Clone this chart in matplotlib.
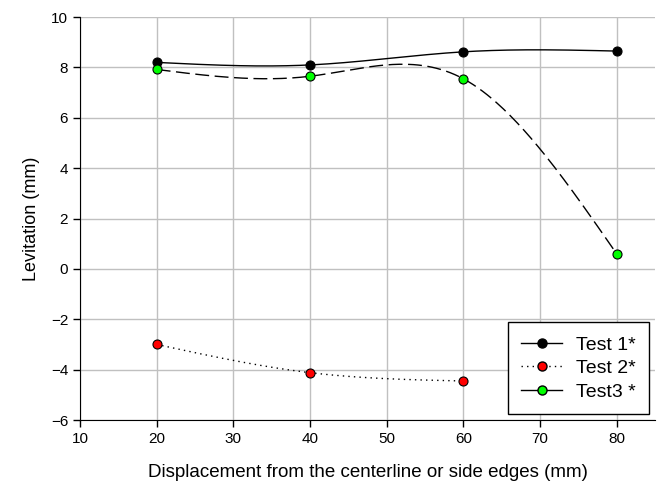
import numpy as np
import matplotlib
matplotlib.use('Agg')
import matplotlib.pyplot as plt
from matplotlib.lines import Line2D

plt.rcParams['font.family'] = ['Liberation Sans', 'DejaVu Sans']

# Data
displacement = [20, 40, 60, 80]
test1 = [8.2, 8.1, 8.62, 8.65]
test2_x = [20, 40, 60]
test2 = [-3.0, -4.12, -4.45]
test3 = [7.92, 7.65, 7.55, 0.6]


def natural_spline(x, y, n=200):
    """Natural cubic spline through the points (smooth curve like SigmaPlot)"""
    x = np.asarray(x, float)
    y = np.asarray(y, float)
    k = len(x)
    h = np.diff(x)
    A = np.zeros((k, k))
    b = np.zeros(k)
    A[0, 0] = A[-1, -1] = 1
    for i in range(1, k - 1):
        A[i, i - 1] = h[i - 1]
        A[i, i] = 2 * (h[i - 1] + h[i])
        A[i, i + 1] = h[i]
        b[i] = 3 * ((y[i + 1] - y[i]) / h[i] - (y[i] - y[i - 1]) / h[i - 1])
    c = np.linalg.solve(A, b)
    xs = np.linspace(x[0], x[-1], n)
    ys = np.empty_like(xs)
    for j, xv in enumerate(xs):
        i = min(np.searchsorted(x, xv, side='right') - 1, k - 2)
        bi = (y[i + 1] - y[i]) / h[i] - h[i] * (2 * c[i] + c[i + 1]) / 3
        di = (c[i + 1] - c[i]) / (3 * h[i])
        t = xv - x[i]
        ys[j] = y[i] + bi * t + c[i] * t ** 2 + di * t ** 3
    return xs, ys


fig = plt.figure(figsize=(6.67, 4.95), dpi=100)
ax = fig.add_axes([0.12, 0.1515, 0.862, 0.814])

mk = dict(marker='o', markersize=6.5, markeredgecolor='black', markeredgewidth=0.8, linestyle='none', zorder=3)

xs, ys = natural_spline(displacement, test1)
ax.plot(xs, ys, color='black', linewidth=1.0)
ax.plot(displacement, test1, markerfacecolor='black', **mk)

xs, ys = natural_spline(test2_x, test2)
ax.plot(xs, ys, color='black', linewidth=1.0, linestyle=(0, (1, 3)))
ax.plot(test2_x, test2, markerfacecolor='#ff0000', **mk)

xs, ys = natural_spline(displacement, test3)
ax.plot(xs, ys, color='black', linewidth=1.0, linestyle=(0, (10, 4)))
ax.plot(displacement, test3, markerfacecolor='#00ff00', **mk)

ax.set_xlim(10, 85)
ax.set_ylim(-6, 10)
ax.set_xticks(np.arange(10, 90, 10))
ax.set_yticks(np.arange(-6, 12, 2))
ax.grid(True, color='#c0c0c0', linewidth=1.0)
ax.set_axisbelow(True)
for s in ['top', 'right']:
    ax.spines[s].set_visible(False)
ax.tick_params(direction='out', length=5, labelsize=11, width=1)

ax.set_xlabel('Displacement from the centerline or side edges (mm)', fontsize=13.5, labelpad=13)
ax.set_ylabel('Levitation (mm)', fontsize=13, labelpad=8)

handles = [
    Line2D([0], [0], color='black', lw=1, marker='o', markersize=6.5, markerfacecolor='black', markeredgecolor='black'),
    Line2D([0], [0], color='black', lw=1, linestyle=(0, (1, 3)), marker='o', markersize=6.5, markerfacecolor='#ff0000', markeredgecolor='black'),
    Line2D([0], [0], color='black', lw=1, marker='o', markersize=6.5, markerfacecolor='#00ff00', markeredgecolor='black'),
]
leg = ax.legend(handles, ['Test 1*', 'Test 2*', 'Test3 *'], loc='lower right', fontsize=14,
                fancybox=False, edgecolor='black', framealpha=1, handlelength=2.1,
                handletextpad=0.7, borderaxespad=0.3, borderpad=0.7, labelspacing=0.3)
leg.get_frame().set_linewidth(1.0)

fig.savefig('out.png', dpi=100)
